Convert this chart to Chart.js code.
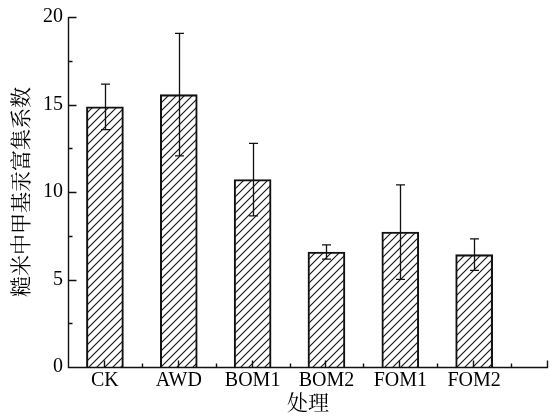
<!DOCTYPE html>
<html>
<head>
<meta charset="utf-8">
<script src="https://cdn.jsdelivr.net/npm/chart.js@4.4.0/dist/chart.umd.min.js"></script>
<style>
  html, body { margin: 0; padding: 0; background: #fff; }
  canvas { display: block; }
</style>
</head>
<body>
<canvas id="c" width="552" height="417"></canvas>
<script>
// Treatments, mean enrichment factor and standard deviation
const categories = ['CK', 'AWD', 'BOM1', 'BOM2', 'FOM1', 'FOM2'];
const means = [14.87, 15.56, 10.71, 6.57, 7.71, 6.42];
const errors = [1.3, 3.5, 2.07, 0.41, 2.7, 0.9];

// Axis ticks
const yMajorTicks = [0, 5, 10, 15, 20];
const yMinorTicks = [2.5, 7.5, 12.5, 17.5];
const xMajorTicks = [1, 2, 3, 4, 5, 6, 7];
const xMinorTicks = [1.5, 2.5, 3.5, 4.5, 5.5, 6.5];

const xTitle = '处理';
const yTitle = '糙米中甲基汞富集系数';

const INK = '#111';
const SERIF = "'Liberation Serif', 'Times New Roman', serif";
const CJK = "'Liberation Serif', 'Noto Serif CJK SC', 'Noto Sans CJK SC', serif";

// Diagonal "/" hatch fill for the bars
function makeHatch() {
  const s = 8;
  const c = document.createElement('canvas');
  c.width = s; c.height = s;
  const g = c.getContext('2d');
  g.strokeStyle = INK;
  g.lineWidth = 1.1;
  g.beginPath();
  g.moveTo(-1, s + 1); g.lineTo(s + 1, -1);
  g.moveTo(-s / 2 - 1, s / 2 + 1); g.lineTo(s / 2 + 1, -s / 2 - 1);
  g.moveTo(s / 2 - 1, s * 1.5 + 1); g.lineTo(s * 1.5 + 1, s / 2 - 1);
  g.stroke();
  return g.createPattern(c, 'repeat');
}

// Axis lines, inward tick marks and error bars
const decorations = {
  id: 'decorations',
  afterDatasetsDraw(chart) {
    const { ctx, scales: { x, y } } = chart;
    const cap = 4.5;
    ctx.save();
    ctx.strokeStyle = INK;
    ctx.lineWidth = 1.3;
    ctx.beginPath();
    means.forEach((m, i) => {
      const px = Math.round(x.getPixelForValue(i + 1)) + 0.5;
      const top = y.getPixelForValue(m + errors[i]);
      const bot = y.getPixelForValue(m - errors[i]);
      ctx.moveTo(px, top); ctx.lineTo(px, bot);
      ctx.moveTo(px - cap, top); ctx.lineTo(px + cap, top);
      ctx.moveTo(px - cap, bot); ctx.lineTo(px + cap, bot);
    });
    ctx.stroke();
    ctx.restore();
  },
  afterDraw(chart) {
    const { ctx, chartArea: a, scales: { x, y } } = chart;
    ctx.save();
    ctx.strokeStyle = INK;
    ctx.lineWidth = 1.4;
    const x0 = Math.round(a.left) + 0.5;
    const y0 = Math.round(a.bottom) + 0.5;
    ctx.beginPath();
    ctx.moveTo(x0, Math.round(a.top));
    ctx.lineTo(x0, y0);
    ctx.lineTo(Math.round(a.right), y0);
    yMajorTicks.forEach(v => {
      const py = Math.round(y.getPixelForValue(v)) + 0.5;
      ctx.moveTo(x0, py); ctx.lineTo(x0 + 8, py);
    });
    yMinorTicks.forEach(v => {
      const py = Math.round(y.getPixelForValue(v)) + 0.5;
      ctx.moveTo(x0, py); ctx.lineTo(x0 + 4, py);
    });
    xMajorTicks.forEach(v => {
      const px = Math.round(x.getPixelForValue(v)) - 0.5;
      ctx.moveTo(px, y0); ctx.lineTo(px, y0 - 7);
    });
    xMinorTicks.forEach(v => {
      const px = Math.round(x.getPixelForValue(v)) + 0.5;
      ctx.moveTo(px, y0); ctx.lineTo(px, y0 - 4);
    });
    ctx.stroke();
    ctx.restore();
  }
};

new Chart(document.getElementById('c'), {
  type: 'bar',
  data: {
    datasets: [{
      data: means.map((v, i) => ({ x: i + 1, y: v })),
      backgroundColor: makeHatch(),
      borderColor: INK,
      borderWidth: 1.4,
      borderSkipped: 'start',
      barThickness: 37
    }]
  },
  options: {
    responsive: false,
    animation: false,
    devicePixelRatio: 1,
    layout: { padding: { top: 16, right: 4, left: 0, bottom: 0 } },
    plugins: { legend: { display: false }, tooltip: { enabled: false } },
    scales: {
      x: {
        type: 'linear',
        min: 0.5,
        max: 7,
        offset: false,
        grid: { display: false, drawTicks: false, offset: false },
        border: { display: false },
        afterBuildTicks: s => { s.ticks = categories.map((_, i) => ({ value: i + 1 })); },
        afterFit: s => { s.height = 50; },
        ticks: {
          autoSkip: false,
          maxRotation: 0,
          padding: 2,
          color: '#000',
          font: { family: SERIF, size: 20 },
          callback: v => categories[v - 1]
        },
        title: {
          display: true,
          text: xTitle,
          color: '#000',
          font: { family: CJK, size: 21 },
          padding: { top: 0, bottom: 0 }
        }
      },
      y: {
        min: 0,
        max: 20,
        grid: { display: false, drawTicks: false },
        border: { display: false },
        afterBuildTicks: s => { s.ticks = yMajorTicks.map(v => ({ value: v })); },
        afterFit: s => { s.width = 68; },
        ticks: {
          padding: 5,
          color: '#000',
          font: { family: SERIF, size: 20 }
        },
        title: {
          display: true,
          text: yTitle,
          color: '#000',
          font: { family: CJK, size: 21 },
          padding: { top: 10, bottom: 0 }
        }
      }
    }
  },
  plugins: [decorations]
});
</script>
</body>
</html>
